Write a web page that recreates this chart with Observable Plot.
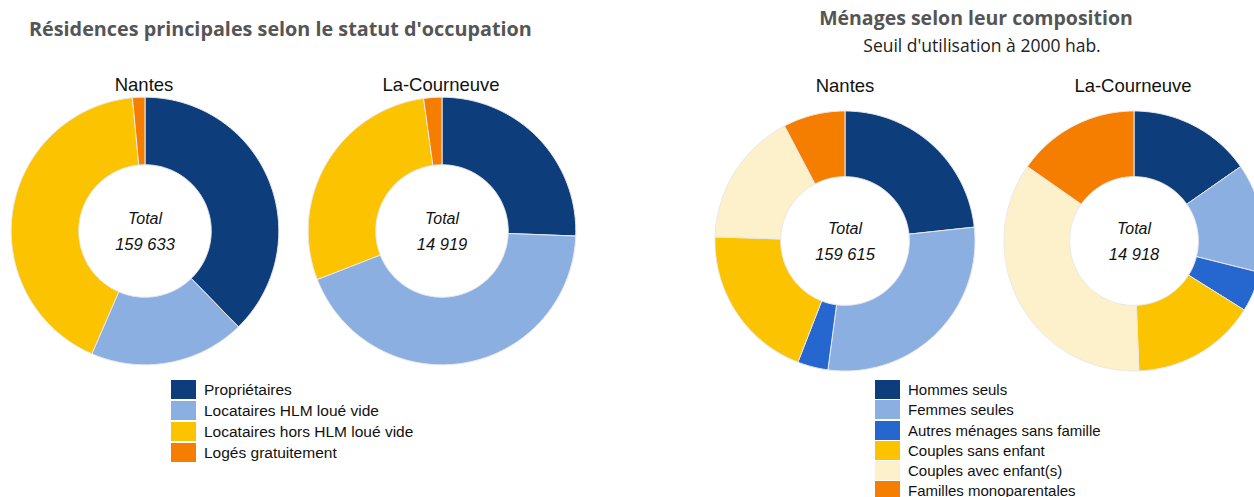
<!DOCTYPE html>
<html lang="fr">
<head>
<meta charset="utf-8">
<script src="https://cdn.jsdelivr.net/npm/d3@7"></script>
<script src="https://cdn.jsdelivr.net/npm/@observablehq/plot@0.6"></script>
<style>
  html, body { margin: 0; padding: 0; background: #fff; }
  #root { position: relative; width: 1254px; height: 497px; overflow: hidden; background: #fff; }
  .abs { position: absolute; }
  .title { font-family: "Open Sans", sans-serif; font-weight: 700; font-size: 19.5px; color: #555; white-space: nowrap; }
  .subtitle { font-family: "Open Sans", sans-serif; font-size: 17.5px; color: #222; white-space: nowrap; }
  .city { font-family: "Liberation Sans", Arial, sans-serif; font-size: 18.5px; color: #111; white-space: nowrap; transform: translateX(-50%); }
  .center { transform: translateX(-50%); }
  .legL-swatch, .legR-swatch { padding-bottom: 2px !important; }
  .legL-swatch > svg, .legR-swatch > svg { margin-right: 8px !important; }
  .legR-swatch { padding-bottom: 1.3px !important; }
</style>
</head>
<body>
<div id="root"></div>
<script>
// ---------- DATA ----------
const cities = ["Nantes", "La-Courneuve"];

// Résidences principales selon le statut d'occupation
const statutCategories = ["Propriétaires", "Locataires HLM loué vide", "Locataires hors HLM loué vide", "Logés gratuitement"];
const statutColors = ["#0d3d7b", "#8cafe2", "#fcc300", "#f57e00"];
const statutNantes = [60180, 30010, 67050, 2393];
const statutCourneuve = [3819, 6490, 4282, 328];
const statutTotals = ["159 633", "14 919"];

// Ménages selon leur composition
const menagesCategories = ["Hommes seuls", "Femmes seules", "Autres ménages sans famille", "Couples sans enfant", "Couples avec enfant(s)", "Familles monoparentales"];
const menagesColors = ["#0d3d7b", "#8cafe2", "#2566cf", "#fcc300", "#fdf1cb", "#f57e00"];
const menagesNantes = [37190, 45970, 6065, 31285, 26815, 12290];
const menagesCourneuve = [2283, 2029, 746, 2312, 5266, 2282];
const menagesTotals = ["159 615", "14 918"];

const titleLeft = "Résidences principales selon le statut d'occupation";
const titleRight = "Ménages selon leur composition";
const subtitleRight = "Seuil d'utilisation à 2000 hab.";
const totalLabel = "Total";

// ---------- HELPERS ----------
const root = document.getElementById("root");
function place(el, left, top) {
  el.classList.add("abs");
  el.style.left = left + "px";
  el.style.top = top + "px";
  root.appendChild(el);
  return el;
}
function textDiv(cls, txt) {
  const d = document.createElement("div");
  d.className = cls;
  d.textContent = txt;
  return d;
}

const PAD = 1.05;
const INNER = 0.495;

// Build donut ring outlines from the data (angles via d3.pie), in unit coordinates
function ringRows(categories, values) {
  const arcs = d3.pie().sort(null).value(d => d.value)(categories.map((c, i) => ({category: c, value: values[i]})));
  const rows = [];
  for (const a of arcs) {
    const n = Math.max(2, Math.ceil((a.endAngle - a.startAngle) / (Math.PI / 180)));
    const pts = [];
    for (let k = 0; k <= n; k++) {
      const t = a.startAngle + (a.endAngle - a.startAngle) * k / n;
      pts.push([Math.sin(t), Math.cos(t)]);
    }
    for (let k = n; k >= 0; k--) {
      const t = a.startAngle + (a.endAngle - a.startAngle) * k / n;
      pts.push([INNER * Math.sin(t), INNER * Math.cos(t)]);
    }
    pts.push(pts[0]);
    pts.forEach(([x, y], i) => rows.push({category: a.data.category, x, y, i}));
  }
  return rows;
}

function donut(categories, colors, values, total, radius) {
  const size = Math.round(2 * radius * PAD);
  return Plot.plot({
    width: size,
    height: size,
    margin: 0,
    x: {domain: [-PAD, PAD], axis: null},
    y: {domain: [-PAD, PAD], axis: null},
    color: {type: "ordinal", domain: categories, range: colors},
    style: {background: "transparent", overflow: "visible"},
    marks: [
      Plot.line(ringRows(categories, values), {
        x: "x", y: "y", z: "category", fill: "category",
        stroke: "#e9e9e9", strokeWidth: 1, strokeLinejoin: "round", curve: "linear"
      }),
      Plot.text([totalLabel], {frameAnchor: "middle", dy: -7, lineAnchor: "bottom",
        fontFamily: "Liberation Sans, Arial, sans-serif", fontStyle: "italic", fontSize: 16, fill: "#111"}),
      Plot.text([total], {frameAnchor: "middle", dy: 19, lineAnchor: "bottom",
        fontFamily: "Liberation Sans, Arial, sans-serif", fontStyle: "italic", fontSize: 16.5, fill: "#111"})
    ]
  });
}

function addDonut(cx, cy, radius, categories, colors, values, total) {
  const size = Math.round(2 * radius * PAD);
  const p = donut(categories, colors, values, total, radius);
  place(p, cx - size / 2, cy - size / 2);
}

function legend(categories, colors, cls, fontSize) {
  return Plot.legend({
    color: {type: "ordinal", domain: categories, range: colors},
    legend: "swatches",
    columns: 1,
    swatchWidth: 25,
    swatchHeight: 19,
    className: cls,
    style: {fontFamily: "Liberation Sans, Arial, sans-serif", fontSize: fontSize + "px", color: "#111", margin: 0}
  });
}

// ---------- LEFT PANEL ----------
const tl = place(textDiv("title", titleLeft), 29, 15);
tl.style.fontSize = "19.8px";
place(textDiv("city", cities[0]), 144, 74);
place(textDiv("city", cities[1]), 441, 74);
addDonut(144, 230, 134, statutCategories, statutColors, statutNantes, statutTotals[0]);
addDonut(441, 230, 134, statutCategories, statutColors, statutCourneuve, statutTotals[1]);
place(legend(statutCategories, statutColors, "legL", 15.5), 171, 380);

// ---------- RIGHT PANEL ----------
place(textDiv("title center", titleRight), 976, 4);
place(textDiv("subtitle center", subtitleRight), 982, 33);
place(textDiv("city", cities[0]), 845, 75);
place(textDiv("city", cities[1]), 1133, 75);
addDonut(844, 240, 130, menagesCategories, menagesColors, menagesNantes, menagesTotals[0]);
addDonut(1133, 240, 130, menagesCategories, menagesColors, menagesCourneuve, menagesTotals[1]);
place(legend(menagesCategories, menagesColors, "legR", 15), 875, 380);
</script>
</body>
</html>
